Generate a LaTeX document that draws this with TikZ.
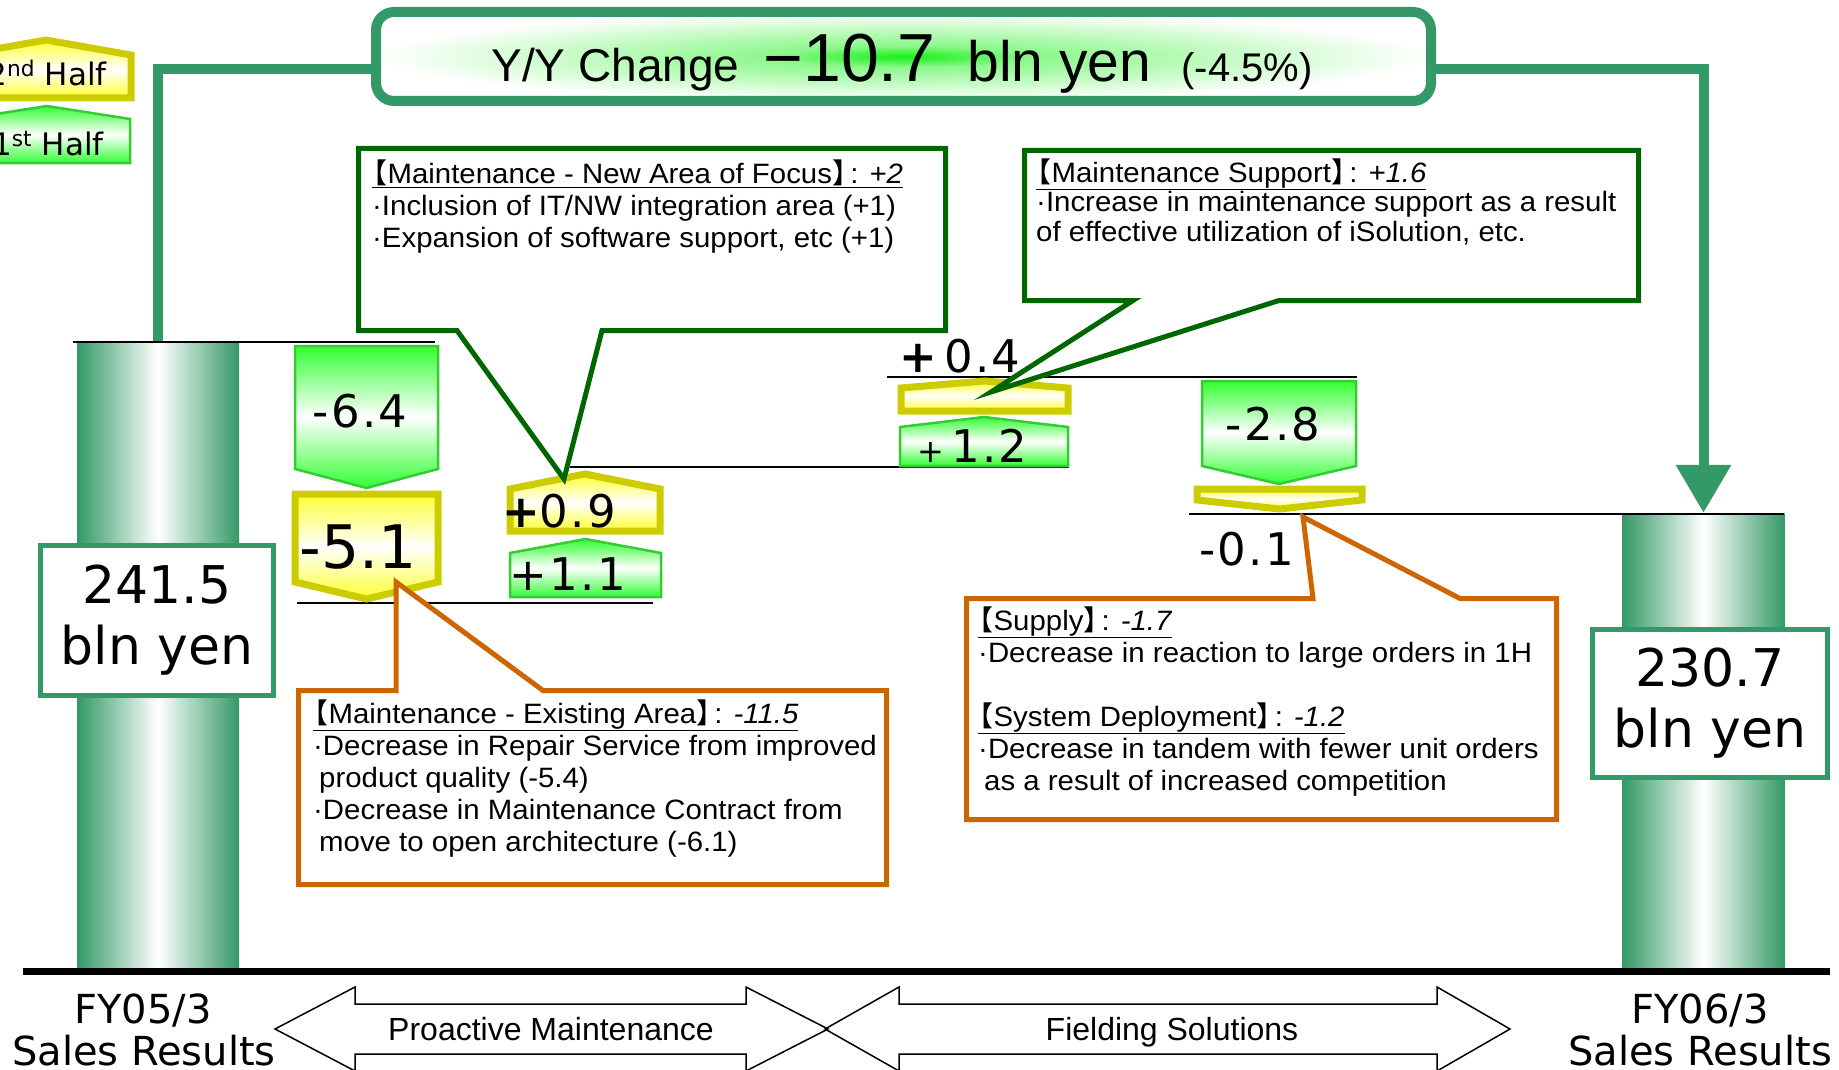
\documentclass[tikz,border=0pt]{standalone}
\usepackage{fontspec}
\setmainfont{Liberation Sans}
\newfontfamily\numfont{DejaVu Sans}
\newfontfamily\stepfont{DejaVu Sans}[LetterSpace=5]
\newfontfamily\callfont{Liberation Sans}[FakeStretch=1.05]
\newfontfamily\cjk{Noto Sans CJK JP}
\usetikzlibrary{arrows.meta}
\definecolor{bargreen}{RGB}{51,153,102}
\definecolor{darkgreen}{RGB}{0,102,0}
\definecolor{calloutorange}{RGB}{204,102,0}
\definecolor{litegreen}{RGB}{51,255,51}
\definecolor{edgegreen}{RGB}{51,204,51}
\definecolor{liteyellow}{RGB}{255,255,51}
\definecolor{edgeyellow}{RGB}{204,204,0}
\definecolor{glowgreen}{RGB}{25,240,25}
\pgfdeclareradialshading{glow}{\pgfpoint{0bp}{0bp}}{color(0bp)=(glowgreen); color(6bp)=(glowgreen!50!white); color(25bp)=(white); color(50bp)=(white)}
\newcommand{\fsz}[2]{\fontsize{#1}{#2}\selectfont}
\newcommand{\lbk}{{\cjk\kern-0.45em【}}
\newcommand{\rbk}{{\cjk】\kern-0.35em}}
% pentagon pointing down: style, x1, x2, top, shoulder, tip
\newcommand{\pentdown}[6]{\draw[#1] (#2,#4) -- (#3,#4) -- (#3,#5) -- ({(#2+#3)/2},#6) -- (#2,#5) -- cycle;}
% pentagon pointing up: style, x1, x2, apex, shoulder, bottom
\newcommand{\pentup}[6]{\draw[#1] (#2,#6) -- (#2,#5) -- ({(#2+#3)/2},#4) -- (#3,#5) -- (#3,#6) -- cycle;}
\tikzstyle{bar} = [shading=axis, left color=bargreen, right color=bargreen, middle color=white, minimum width=162pt, inner sep=0pt]
\tikzstyle{valbox} = [draw=bargreen, line width=5pt, fill=white, minimum width=233pt, minimum height=150pt, align=center, inner sep=0pt, font=\numfont\fsz{52}{61}]
\tikzstyle{link} = [draw=bargreen, line width=10pt]
\tikzstyle{level} = [line width=2pt]
\tikzstyle{gshape} = [draw=edgegreen, line width=2.5pt, top color=litegreen, bottom color=litegreen, middle color=white]
\tikzstyle{yshape} = [draw=edgeyellow, line width=7pt, top color=liteyellow, bottom color=liteyellow, middle color=white]
\tikzstyle{callg} = [draw=darkgreen, line width=5pt, fill=white]
\tikzstyle{callo} = [draw=calloutorange, line width=5pt, fill=white]
% base of a multi-line node = baseline of its last line
\tikzstyle{calltext} = [align=left, inner sep=0pt, anchor=base west, font=\callfont\fsz{28}{32}]
\tikzstyle{numtext} = [inner sep=0pt, anchor=base, font=\stepfont\fsz{45}{50}]
\tikzstyle{fylabel} = [inner sep=0pt, anchor=base, font=\numfont\fsz{40}{44}]
\tikzstyle{segarrow} = [draw, line width=1.5pt]

\begin{document}
\begin{tikzpicture}[x=1pt, y=-1pt]
\useasboundingbox (0,0) rectangle (1839,1070);

% result bars
\node (barL) [bar, minimum height=629pt] at (158,656.5) {};
\node (barR) [bar, minimum height=458pt] at (1703.5,742) {};

% Y/Y change box and its links
\node (yy) [draw=bargreen, line width=10pt, rounded corners=18pt, shading=glow, minimum width=1055pt, minimum height=89pt] at (903.5,56.5) {};
\draw [link] ([yshift=-13pt]yy.west) -| (barL.north);
\draw [link, -{Triangle[width=53pt,length=48pt]}] ([yshift=-13pt]yy.east) -| (barR.north);
\node (yytxt) [inner sep=0pt, anchor=base] at (902,82) {\fsz{46}{50}Y/Y Change\hspace{24pt}{\fsz{68}{70}−10.7}\hspace{32pt}{\fsz{57}{60}bln yen}\hspace{30pt}{\fsz{40}{44}(-4.5\%)}};

% level lines
\draw [level] (73,342) -- (435,342);
\draw [level] (297,603) -- (653,603);
\draw [level] (570,467) -- (1069,467);
\draw [level] (887,377) -- (1357,377);
\draw [level] (1189,514) -- (1784,514);

% steps
\pentdown{gshape}{295}{438}{346}{469}{488}
\pentdown{yshape}{295}{438}{494}{582}{599}
\pentup{yshape}{510}{660}{474}{489}{531}
\pentup{gshape}{510}{661}{539}{553}{597}
\pentup{yshape}{901}{1068}{381}{388}{411}
\pentup{gshape}{900}{1068}{417}{427}{466}
\pentdown{gshape}{1202}{1356}{381}{466}{484}
\pentdown{yshape}{1197}{1362}{489}{500}{509}

\node (n64) [numtext] at (360,427) {-6.4};
\node (n51) [numtext, font=\numfont\fsz{60}{70}] at (358,568) {-5.1};
\node (n09) [numtext, anchor=base west] at (502,527) {{\bfseries +}0.9};
\node (n11) [numtext] at (568,590) {+1.1};
\node (n04) [numtext, anchor=base west] at (899,372) {{\bfseries +}\,0.4};
\node (n12) [numtext, anchor=base west] at (917,462) {{\fsz{32}{32}+}\,1.2};
\node (n28) [numtext] at (1273,440) {-2.8};
\node (n01) [numtext, anchor=base west] at (1199,565) {-0.1};

% callouts
\draw [callg] (358.5,148.5) -- (945.5,148.5) -- (945.5,330.5) -- (602,330.5) -- (564,479) -- (457,330.5) -- (358.5,330.5) -- cycle;
\draw [callg] (1024.5,150.5) -- (1638.5,150.5) -- (1638.5,300.5) -- (1279,300.5) -- (991,392) -- (1133,300.5) -- (1024.5,300.5) -- cycle;
\draw [callo] (298.5,690.5) -- (396,690.5) -- (396,582) -- (543,690.5) -- (886.5,690.5) -- (886.5,884.5) -- (298.5,884.5) -- cycle;
\draw [callo] (966.5,598.5) -- (1313,598.5) -- (1303,517) -- (1460,598.5) -- (1556.5,598.5) -- (1556.5,819.5) -- (966.5,819.5) -- cycle;

\node (newarea) [calltext] at (372,247) {\underline{\lbk Maintenance - New Area of Focus\rbk: \textit{+2}}\\
·Inclusion of IT/NW integration area (+1)\\
·Expansion of software support, etc (+1)};
\node (support) [calltext, font=\callfont\fsz{28}{29.5}] at (1036,241) {\underline{\lbk Maintenance Support\rbk: \textit{+1.6}}\\
·Increase in maintenance support as a result\\
of effective utilization of iSolution, etc.};
\node (existing) [calltext] at (313,851) {\underline{\lbk Maintenance - Existing Area\rbk: \textit{-11.5}}\\
·Decrease in Repair Service from improved\\
\hspace*{6pt}product quality (-5.4)\\
·Decrease in Maintenance Contract from\\
\hspace*{6pt}move to open architecture (-6.1)};
\node (supply) [calltext] at (978,790) {\underline{\lbk Supply\rbk: \textit{-1.7}}\\
·Decrease in reaction to large orders in 1H\\[32pt]
\underline{\lbk System Deployment\rbk: \textit{-1.2}}\\
·Decrease in tandem with fewer unit orders\\
\hspace*{6pt}as a result of increased competition};

% value boxes
\node (valL) [valbox] at (157,620.5) {241.5\\bln yen};
\node (valR) [valbox, minimum width=235pt, minimum height=148pt] at (1710,703.5) {230.7\\bln yen};

% base line
\draw [line width=7pt] (23,971) -- (1830,971);

\node (fy05) [fylabel] at (143,1023) {FY05/3};
\node (sr05) [fylabel] at (144,1065) {Sales Results};
\node (fy06) [fylabel] at (1700,1023) {FY06/3};
\node (sr06) [fylabel] at (1700,1065) {Sales Results};

% segment arrows
\draw [segarrow] (275,1029) -- (355,987) -- (355,1004) -- (746,1004) -- (746,987) -- (828,1029) -- (746,1071) -- (746,1054) -- (355,1054) -- (355,1071) -- cycle;
\draw [segarrow] (825,1029) -- (899,987) -- (899,1004) -- (1437,1004) -- (1437,987) -- (1510,1029) -- (1437,1071) -- (1437,1054) -- (899,1054) -- (899,1071) -- cycle;
\node (proactive) [inner sep=0pt, anchor=base, font=\fsz{32}{36}] at (551,1040) {Proactive Maintenance};
\node (fielding) [inner sep=0pt, anchor=base, font=\fsz{32}{36}] at (1172,1040) {Fielding Solutions};

% legend
\pentup{yshape}{-39}{131}{40}{55}{98}
\pentup{gshape}{-36}{130}{106}{119}{163}
\node (half2) [inner sep=0pt, anchor=base east, font=\numfont\fsz{31}{34}] at (107,86) {2\textsuperscript{nd} Half};
\node (half1) [inner sep=0pt, anchor=base east, font=\numfont\fsz{31}{34}] at (104,156) {1\textsuperscript{st} Half};

\end{tikzpicture}
\end{document}
